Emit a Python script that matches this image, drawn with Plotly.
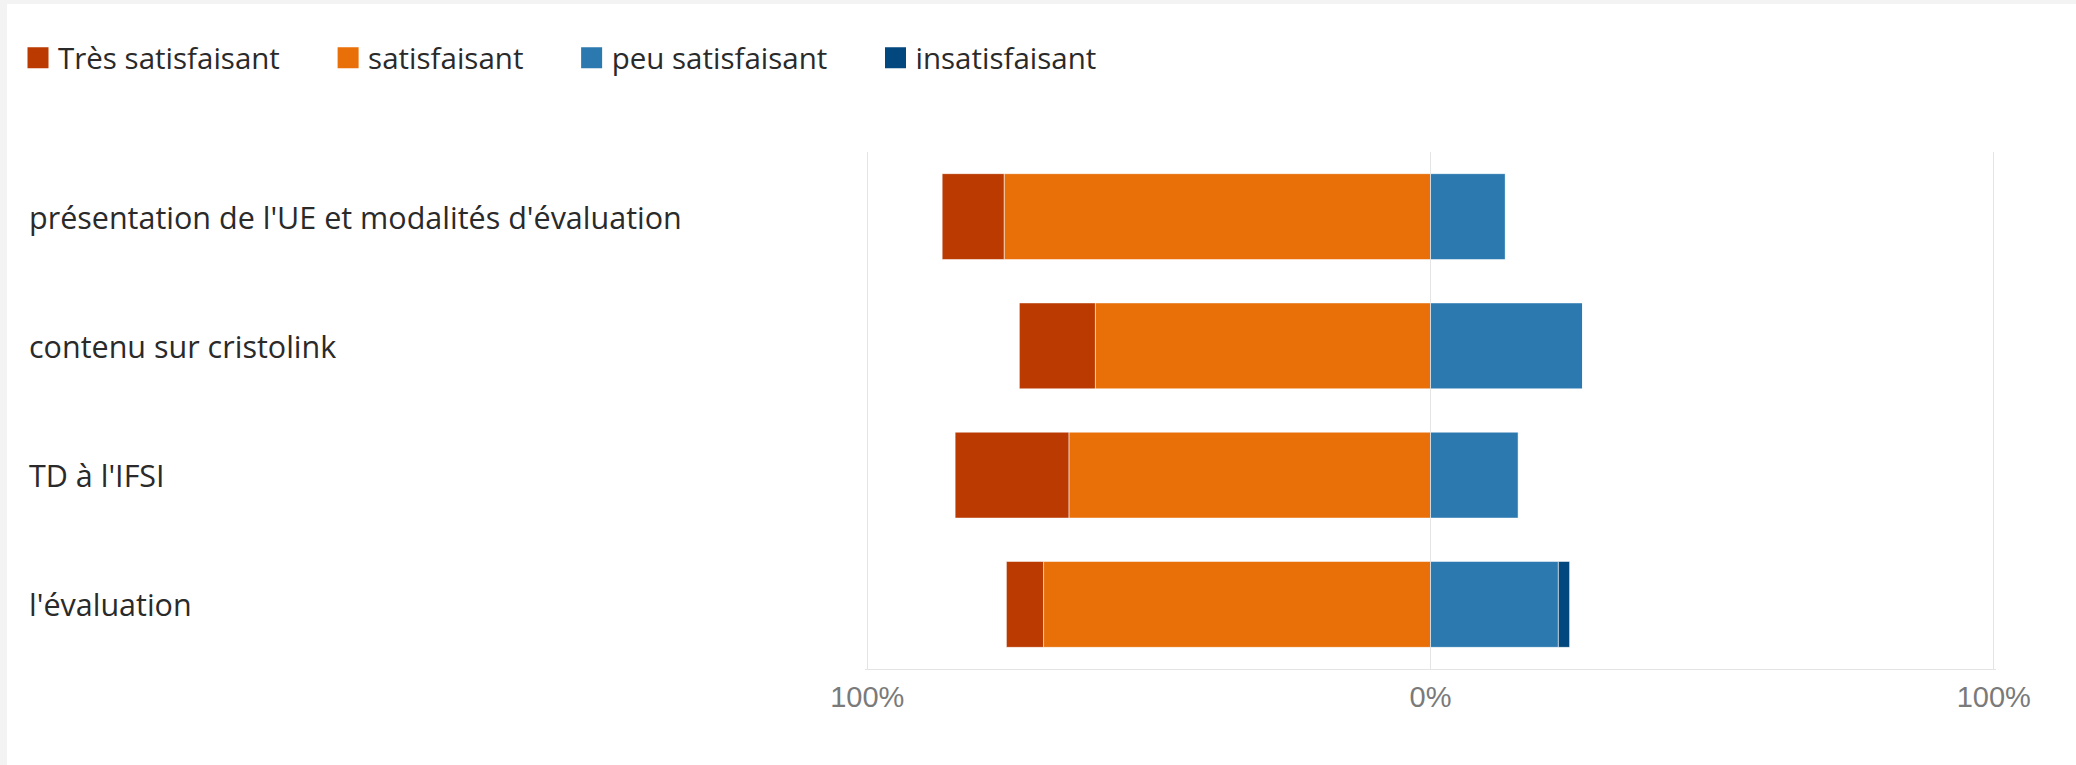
import plotly.graph_objects as go

categories = [
    "présentation de l'UE et modalités d'évaluation",
    "contenu sur cristolink",
    "TD à l'IFSI",
    "l'évaluation",
]
tres_satisfaisant = [11.0, 13.5, 20.2, 6.6]
satisfaisant = [75.7, 59.5, 64.2, 68.7]
peu_satisfaisant = [13.3, 27.0, 15.6, 22.7]
insatisfaisant = [0.0, 0.0, 0.0, 2.0]

series_names = ["Très satisfaisant", "satisfaisant", "peu satisfaisant", "insatisfaisant"]
series_colors = ["#BA3A01", "#E97009", "#2C79B0", "#02477D"]
tick_vals = [-100, 0, 100]
tick_text = ["100%", "0%", "100%"]

W, H = 2076, 765
L, R, T, B = 865, 80, 152, 96
pw, ph = W - L - R, H - T - B

def px_x(p):
    return (p - L) / pw

def px_y(p):
    return (H - B - p) / ph

fig = go.Figure()
edge = dict(color="rgba(255,255,255,0.55)", width=1)
# left side: satisfaisant next to zero, très satisfaisant outside
fig.add_trace(go.Bar(y=categories, x=[-v for v in satisfaisant], orientation="h",
                     marker=dict(color=series_colors[1], line=edge), showlegend=False,
                     name=series_names[1]))
fig.add_trace(go.Bar(y=categories, x=[-v for v in tres_satisfaisant], orientation="h",
                     marker=dict(color=series_colors[0], line=edge), showlegend=False,
                     name=series_names[0]))
fig.add_trace(go.Bar(y=categories, x=peu_satisfaisant, orientation="h",
                     marker=dict(color=series_colors[2], line=edge), showlegend=False,
                     name=series_names[2]))
fig.add_trace(go.Bar(y=categories, x=insatisfaisant, orientation="h",
                     marker=dict(color=series_colors[3], line=edge), showlegend=False,
                     name=series_names[3]))

# legend entries (trailing no-break spaces widen the gap between items)
pad = "\u00a0" * 5 + "\u2009"
for i, (name, col) in enumerate(zip(series_names, series_colors)):
    fig.add_trace(go.Scatter(x=[None], y=[None], mode="markers",
                             name=name + (pad if i < len(series_names) - 1 else ""),
                             marker=dict(symbol="square", size=16, color=col,
                                         line=dict(color=col, width=5)),
                             showlegend=True, hoverinfo="skip"))

label_font = dict(family="Open Sans, Noto Sans, sans-serif", size=30.5, color="#2a2a2a")
for c in categories:
    fig.add_annotation(text=c, xref="paper", yref="y", x=px_x(27), y=c,
                       xanchor="left", yanchor="middle", showarrow=False, font=label_font)

fig.add_shape(type="rect", xref="paper", yref="paper", layer="below",
              x0=px_x(7), x1=px_x(W + 5), y0=px_y(H + 5), y1=px_y(4),
              fillcolor="white", line=dict(width=0))

fig.update_layout(
    width=W, height=H,
    margin=dict(l=L, r=R, t=T, b=B, pad=0),
    paper_bgcolor="#f3f3f3",
    plot_bgcolor="rgba(0,0,0,0)",
    barmode="relative",
    bargap=0.335,
    showlegend=True,
    legend=dict(orientation="h", xref="container", yref="container",
                x=18 / W, y=1 - 58 / H, xanchor="left", yanchor="middle",
                font=dict(family="Open Sans, Noto Sans, sans-serif", size=29.5, color="#2a2a2a"),
                itemwidth=30, bgcolor="rgba(0,0,0,0)", traceorder="normal"),
    xaxis=dict(range=[-100.4, 100.4], tickvals=tick_vals, ticktext=tick_text,
               showgrid=True, gridcolor="#e4e4e4", gridwidth=1,
               zeroline=True, zerolinecolor="#e4e4e4", zerolinewidth=1,
               showline=True, linecolor="#e4e4e4", linewidth=1,
               ticks="", ticklabelstandoff=2, fixedrange=True,
               tickfont=dict(family="Liberation Sans, Arial, sans-serif", size=29, color="#7a7a7a")),
    yaxis=dict(autorange="reversed", showgrid=False, zeroline=False, showline=False,
               showticklabels=False, ticks="", fixedrange=True),
)

fig.write_html("out.html", config={"displayModeBar": False},
               post_script="document.body.style.margin='0';")
